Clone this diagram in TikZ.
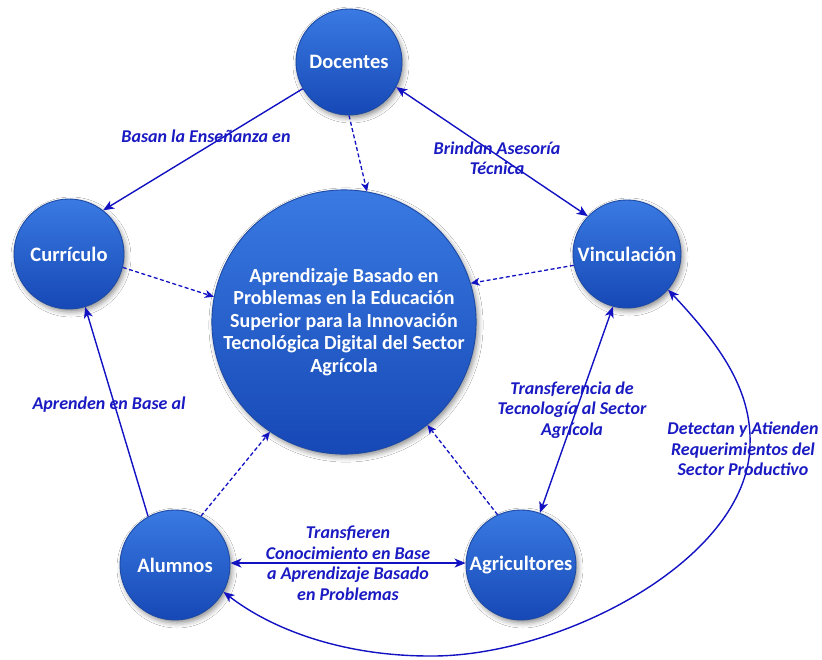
\documentclass[tikz,border=0pt]{standalone}
\usepackage{fontspec}
\setmainfont{Carlito}
\usetikzlibrary{arrows.meta,shadows.blur}
\definecolor{edgeblue}{RGB}{18,18,195}
\definecolor{labelblue}{RGB}{26,26,195}
\definecolor{balltop}{RGB}{58,122,226}
\definecolor{ballbot}{RGB}{22,72,182}
\definecolor{ballrim}{RGB}{28,74,165}
\tikzset{
  ball/.style={circle, minimum size=#1, inner sep=0pt, top color=balltop, bottom color=ballbot,
    draw=ballrim, line width=0.9pt, text=white, align=center,
    font=\fontsize{20.5}{22.5}\selectfont\bfseries,
    blur shadow={shadow xshift=2pt, shadow yshift=-3pt, shadow blur radius=5pt, shadow opacity=45}},
  tipa/.tip={Stealth[length=11pt,width=9pt,inset=3pt]},
  conn/.style={draw=edgeblue, line width=1.4pt, -tipa},
  biconn/.style={draw=edgeblue, line width=1.4pt, tipa-tipa},
  dashconn/.style={draw=edgeblue, line width=1.3pt, dash pattern=on 4pt off 2.5pt, -{Stealth[length=9pt,width=8pt,inset=2.5pt]}},
  elabel/.style={text=labelblue, align=center, inner sep=0pt,
    font=\fontsize{18}{20.5}\selectfont\bfseries\itshape},
}
\begin{document}
\begin{tikzpicture}[x=1pt,y=-1pt]
\useasboundingbox[fill=white] (0,0) rectangle (822,659);
% nodes
\node[ball=106pt] (doc) at (349,62) {Docentes};
\node[ball=110pt] (cur) at (69,254) {Currículo};
\node[ball=108pt] (vin) at (627,254) {Vinculación};
\node[ball=110pt] (alu) at (175,565) {Alumnos};
\node[ball=110pt] (agr) at (521,565) {Agricultores};
\node[ball=254pt, font=\fontsize{20}{22.5}\selectfont\bfseries] (cen) at (344,322) {Aprendizaje Basado en\\Problemas en la Educación\\Superior para la Innovación\\Tecnológica Digital del Sector\\Agrícola};
% connectors
\draw[conn] (doc.210) -- (cur.52);
\draw[biconn] (doc.-28) -- (vin.136);
\draw[dashconn] (doc.270) -- (cen.80);
\draw[dashconn] (cur.-14) -- (cen.169);
\draw[dashconn] (vin.192) -- (cen.17);
\draw[conn] (alu.119) -- (cur.-73);
\draw[dashconn] (alu.62) -- (cen.236);
\draw[dashconn] (agr.115) -- (cen.-51);
\draw[biconn] (agr.70) -- (vin.255);
\draw[biconn] (alu.2) -- (agr.178);
\draw[biconn] (vin.-41) .. controls (720,345) and (752,390) .. (750,445)
  .. controls (748,560) and (560,657) .. (430,656)
  .. controls (340,656) and (270,628) .. (alu.-29);
% labels
\node[elabel] (l1) at (206,136) {Basan la Enseñanza en};
\node[elabel] (l2) at (497,158) {Brindan Asesoría\\Técnica};
\node[elabel] (l3) at (109,405) {Aprenden en Base al};
\node[elabel] (l4) at (572,410) {Transferencia de\\Tecnología al Sector\\Agrícola};
\node[elabel] (l5) at (348,563) {Transfieren\\Conocimiento en Base\\a Aprendizaje Basado\\en Problemas};
\node[elabel] (l6) at (743,449) {Detectan y Atienden\\Requerimientos del\\Sector Productivo};
\end{tikzpicture}
\end{document}
